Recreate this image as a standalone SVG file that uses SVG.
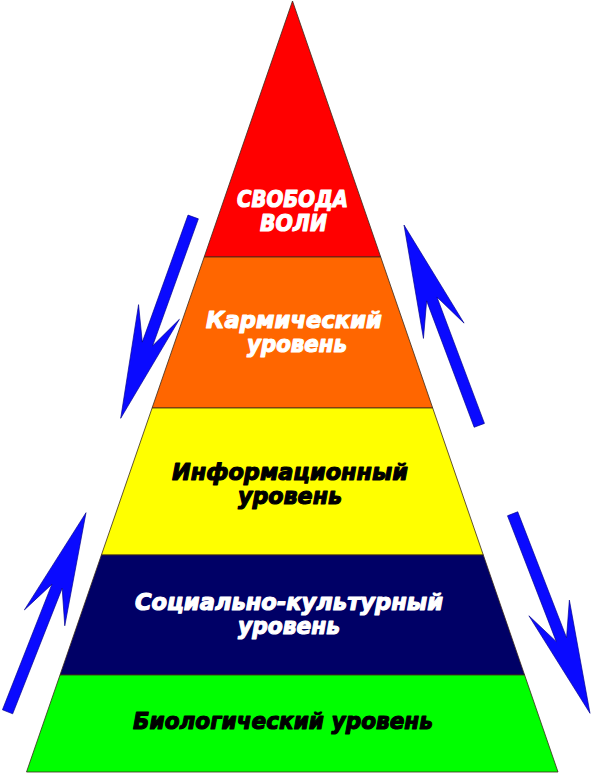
<svg xmlns="http://www.w3.org/2000/svg" width="591" height="774" viewBox="0 0 591 774">
<style>
.band{stroke:#3a2a1a;stroke-width:0.8;stroke-linejoin:round}
.t{font-family:"DejaVu Sans","Liberation Sans",sans-serif;font-weight:bold;font-style:italic;font-size:23px;text-anchor:middle;stroke-width:1.2;stroke-linejoin:round}
.w{fill:#ffffff;stroke:#ffffff}
.k{fill:#000000;stroke:#000000}
.arrow{fill:#0a0aff;stroke:#00008a;stroke-width:0.6;stroke-linejoin:miter}
</style>
<defs>
<path id="arr" d="M0,0 L21.7,113 L5.5,79 L5.5,214 L-5.5,214 L-5.5,79 L-21.7,113 Z"/>
</defs>
<rect width="591" height="774" fill="#ffffff"/>
<g id="level-freedom">
<polygon class="band" fill="#ff0000" points="292.5,1 380.7,257 204.2,257"/>
<text class="t w" x="292.5" y="207" textLength="111" lengthAdjust="spacingAndGlyphs">СВОБОДА</text>
<text class="t w" x="293.5" y="231" textLength="67" lengthAdjust="spacingAndGlyphs">ВОЛИ</text>
</g>
<g id="level-karmic">
<polygon class="band" fill="#ff6600" points="204.2,257 380.7,257 432.7,408 152.1,408"/>
<text class="t w" x="294" y="328" textLength="176" lengthAdjust="spacingAndGlyphs">Кармический</text>
<text class="t w" x="297" y="352" textLength="100" lengthAdjust="spacingAndGlyphs">уровень</text>
</g>
<g id="level-info">
<polygon class="band" fill="#ffff00" points="152.1,408 432.7,408 483.3,555 101.4,555"/>
<text class="t k" x="290" y="480" textLength="236" lengthAdjust="spacingAndGlyphs">Информационный</text>
<text class="t k" x="290" y="504" textLength="104" lengthAdjust="spacingAndGlyphs">уровень</text>
</g>
<g id="level-social">
<polygon class="band" fill="#000066" points="101.4,555 483.3,555 524.6,675 60,675"/>
<text class="t w" x="289" y="610" textLength="308" lengthAdjust="spacingAndGlyphs">Социально-культурный</text>
<text class="t w" x="289" y="634" textLength="102" lengthAdjust="spacingAndGlyphs">уровень</text>
</g>
<g id="level-bio">
<polygon class="band" fill="#00ff00" points="60,675 524.6,675 558,772 26.5,772"/>
<text class="t k" x="283" y="729" textLength="300" lengthAdjust="spacingAndGlyphs">Биологический уровень</text>
</g>
<g id="connectors">
<use href="#arr" class="arrow" transform="translate(120.7,418.3) rotate(199.8)"/>
<use href="#arr" class="arrow" transform="translate(404,225) rotate(-20.6)"/>
<use href="#arr" class="arrow" transform="translate(86,512.7) rotate(21.5)"/>
<use href="#arr" class="arrow" transform="translate(590,713.3) rotate(158.8)"/>
</g>
</svg>
